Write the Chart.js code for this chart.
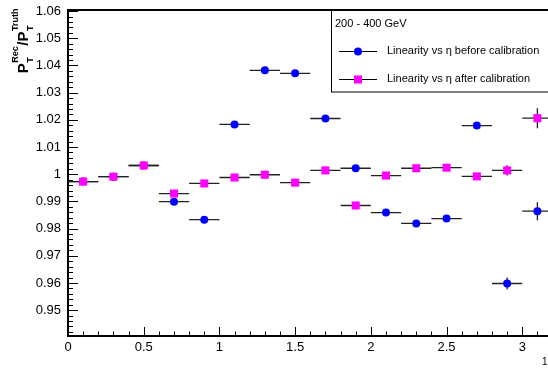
<!DOCTYPE html>
<html>
<head>
<meta charset="utf-8">
<script src="https://cdn.jsdelivr.net/npm/chart.js@4.4.0/dist/chart.umd.min.js"></script>
<style>
  html, body { margin: 0; padding: 0; background: #fff; }
  #wrap { width: 548px; height: 369px; }
</style>
</head>
<body>
<div id="wrap"><canvas id="linChart" width="548" height="369"></canvas></div>
<script>
// eta bin centres, bin width 0.2
const etaBins = [0.1, 0.3, 0.5, 0.7, 0.9, 1.1, 1.3, 1.5, 1.7, 1.9, 2.1, 2.3, 2.5, 2.7, 2.9, 3.1];
const etaHalfWidth = 0.1;

// Linearity before calibration (blue)
const beforeCalib    = [0.9973, 0.9991, 1.0032, 0.9899, 0.9833, 1.0183, 1.0382, 1.0371, 1.0205, 1.0022, 0.9859, 0.9819, 0.9837, 1.0179, 0.9598, 0.9864];
const beforeCalibErr = [0.0004, 0.0004, 0.0005, 0.0006, 0.0006, 0.0006, 0.0006, 0.0007, 0.0007, 0.0007, 0.0008, 0.0008, 0.0009, 0.0010, 0.0022, 0.0033];

// Linearity after calibration (magenta)
const afterCalib    = [0.9973, 0.9991, 1.0032, 0.9929, 0.9966, 0.9988, 0.9998, 0.9969, 1.0014, 0.9885, 0.9995, 1.0022, 1.0024, 0.9992, 1.0014, 1.0206];
const afterCalibErr = [0.0004, 0.0004, 0.0005, 0.0006, 0.0006, 0.0006, 0.0006, 0.0007, 0.0007, 0.0007, 0.0008, 0.0008, 0.0009, 0.0010, 0.0019, 0.0037];

// Axis ticks
const xTickValues = [0, 0.5, 1, 1.5, 2, 2.5, 3];
const xTickLabels = ['0', '0.5', '1', '1.5', '2', '2.5', '3'];
const yTickValues = [0.95, 0.96, 0.97, 0.98, 0.99, 1.0, 1.01, 1.02, 1.03, 1.04, 1.05, 1.06];
const yTickLabels = ['0.95', '0.96', '0.97', '0.98', '0.99', '1', '1.01', '1.02', '1.03', '1.04', '1.05', '1.06'];

const legendHeader = '200 - 400 GeV';
const seriesLabels = ['Linearity vs \u03b7 before calibration', 'Linearity vs \u03b7 after calibration'];

const COLORS = { blue: '#0000ff', magenta: '#ff00ff', axis: '#000000' };
const FONT = "'Liberation Sans', Arial, Helvetica, sans-serif";

// ----------------------------------------------------
// Plugins (ROOT style decorations)
// ----------------------------------------------------

// horizontal bin-width bars + vertical stat errors, under the markers
const errorBarPlugin = {
    id: 'errorBars',
    beforeDatasetsDraw(chart) {
        const { ctx, chartArea, scales: { x, y } } = chart;
        ctx.save();
        ctx.beginPath();
        ctx.rect(chartArea.left, chartArea.top, chartArea.right - chartArea.left + 10, chartArea.bottom - chartArea.top);
        ctx.clip();
        ctx.strokeStyle = '#222';
        ctx.lineWidth = 1.3;
        chart.data.datasets.forEach(ds => {
            ds.data.forEach((pt, i) => {
                const yc = y.getPixelForValue(pt.y);
                const xc = x.getPixelForValue(pt.x);
                ctx.beginPath();
                ctx.moveTo(x.getPixelForValue(pt.x - etaHalfWidth), yc);
                ctx.lineTo(x.getPixelForValue(pt.x + etaHalfWidth), yc);
                ctx.moveTo(xc, y.getPixelForValue(pt.y - ds.errors[i]));
                ctx.lineTo(xc, y.getPixelForValue(pt.y + ds.errors[i]));
                ctx.stroke();
            });
        });
        ctx.restore();
    }
};

// top frame line, inward major/minor ticks, axis title, legend box
const decorPlugin = {
    id: 'decor',
    afterDraw(chart) {
        const { ctx, chartArea, scales: { x, y } } = chart;
        ctx.save();
        ctx.strokeStyle = COLORS.axis;

        // top frame
        ctx.lineWidth = 2;
        ctx.beginPath();
        ctx.moveTo(chartArea.left - 1, chartArea.top);
        ctx.lineTo(chartArea.right + 1, chartArea.top);
        ctx.stroke();

        // y ticks: minor every 0.002, major every 0.01
        ctx.lineWidth = 1;
        ctx.beginPath();
        for (let i = 0; i <= 60; i++) {
            const v = 0.94 + i * 0.002;
            if (v < y.min || v > y.max) continue;
            const py = Math.round(y.getPixelForValue(v)) + 0.5;
            const len = (i % 5 === 0) ? 10 : 5;
            ctx.moveTo(chartArea.left, py);
            ctx.lineTo(chartArea.left + len, py);
        }
        // x ticks: minor every 0.1, major every 0.5
        for (let i = 0; i <= 32; i++) {
            const v = i * 0.1;
            if (v > x.max) continue;
            const px = Math.round(x.getPixelForValue(v)) + 0.5;
            const len = (i % 5 === 0) ? 9 : 4.5;
            ctx.moveTo(px, chartArea.bottom);
            ctx.lineTo(px, chartArea.bottom - len);
        }
        ctx.stroke();

        // y axis title: P_T^Rec / P_T^Truth (rotated)
        const big = 'bold 15px ' + FONT;
        const small = 'bold 9px ' + FONT;
        const parts = [
            { t: 'P', sub: 'T', sup: 'Rec' },
            { t: '/P', sub: 'T', sup: 'Truth' }
        ];
        let total = 0;
        parts.forEach(p => {
            ctx.font = big; p.w = ctx.measureText(p.t).width;
            ctx.font = small; p.sw = Math.max(ctx.measureText(p.sub).width, ctx.measureText(p.sup).width);
            total += p.w + p.sw + 1;
        });
        ctx.translate(28, 8 + total);
        ctx.rotate(-Math.PI / 2);
        ctx.fillStyle = '#000';
        ctx.textBaseline = 'alphabetic';
        let cx = 0;
        parts.forEach(p => {
            ctx.font = big;
            ctx.fillText(p.t, cx, 0);
            cx += p.w;
            ctx.font = small;
            ctx.fillText(p.sub, cx + 0.5, 5);
            ctx.fillText(p.sup, cx + 0.5, -10);
            cx += p.sw + 1;
        });
        ctx.restore();

        // legend box
        ctx.save();
        ctx.strokeStyle = '#000';
        ctx.lineWidth = 1;
        ctx.strokeRect(331.5, chartArea.top, 230, 82);
        ctx.fillStyle = '#000';
        ctx.font = '11px ' + FONT;
        ctx.textBaseline = 'middle';
        ctx.fillText(legendHeader, 335, 24);
        const rows = [51, 79];
        chart.data.datasets.forEach((ds, i) => {
            const ry = rows[i] + 0.5;
            ctx.beginPath();
            ctx.moveTo(339, ry);
            ctx.lineTo(377, ry);
            ctx.stroke();
            ctx.fillStyle = ds.pointBackgroundColor;
            if (ds.pointStyle === 'rect') {
                ctx.fillRect(358 - 4, ry - 4, 8, 8);
            } else {
                ctx.beginPath();
                ctx.arc(358, ry, 4, 0, Math.PI * 2);
                ctx.fill();
            }
            ctx.fillStyle = '#000';
            ctx.fillText(seriesLabels[i], 387, rows[i]);
        });

        // clipped axis title remnant in the corner
        ctx.font = '10px ' + FONT;
        ctx.fillText('1', 542, 362);
        ctx.restore();
    }
};

// ----------------------------------------------------
// Chart
// ----------------------------------------------------
const toPoints = (vals) => vals.map((v, i) => ({ x: etaBins[i], y: v }));

const ctx = document.getElementById('linChart').getContext('2d');
new Chart(ctx, {
    type: 'scatter',
    data: {
        datasets: [
            {
                label: seriesLabels[0],
                data: toPoints(beforeCalib),
                errors: beforeCalibErr,
                pointStyle: 'circle',
                pointRadius: 4,
                pointBackgroundColor: COLORS.blue,
                pointBorderWidth: 0,
                order: 2
            },
            {
                label: seriesLabels[1],
                data: toPoints(afterCalib),
                errors: afterCalibErr,
                pointStyle: 'rect',
                pointRadius: 5.7,
                pointBackgroundColor: COLORS.magenta,
                pointBorderWidth: 0,
                order: 1
            }
        ]
    },
    options: {
        responsive: false,
        animation: false,
        events: [],
        layout: { autoPadding: false, padding: { top: 10, right: 0, left: 0, bottom: 0 } },
        plugins: {
            legend: { display: false },
            tooltip: { enabled: false }
        },
        scales: {
            x: {
                type: 'linear',
                min: 0,
                max: 3.17,
                grid: { display: false, drawTicks: false },
                border: { display: true, color: COLORS.axis, width: 2 },
                afterBuildTicks: s => { s.ticks = xTickValues.map(v => ({ value: v })); },
                afterFit: s => { s.height = 33; s.paddingLeft = 0; s.paddingRight = 0; },
                ticks: {
                    autoSkip: false,
                    maxRotation: 0,
                    padding: 4,
                    color: '#000',
                    font: { family: FONT, size: 13 },
                    callback: v => xTickLabels[xTickValues.indexOf(v)]
                }
            },
            y: {
                type: 'linear',
                min: 0.9405,
                max: 1.0604,
                grid: { display: false, drawTicks: false },
                border: { display: true, color: COLORS.axis, width: 2 },
                afterBuildTicks: s => { s.ticks = yTickValues.map(v => ({ value: v })); },
                afterFit: s => { s.width = 68; s.paddingTop = 0; s.paddingBottom = 0; },
                ticks: {
                    autoSkip: false,
                    padding: 7,
                    color: '#000',
                    font: { family: FONT, size: 13 },
                    callback: v => yTickLabels[yTickValues.indexOf(v)]
                }
            }
        }
    },
    plugins: [errorBarPlugin, decorPlugin]
});
</script>
</body>
</html>
